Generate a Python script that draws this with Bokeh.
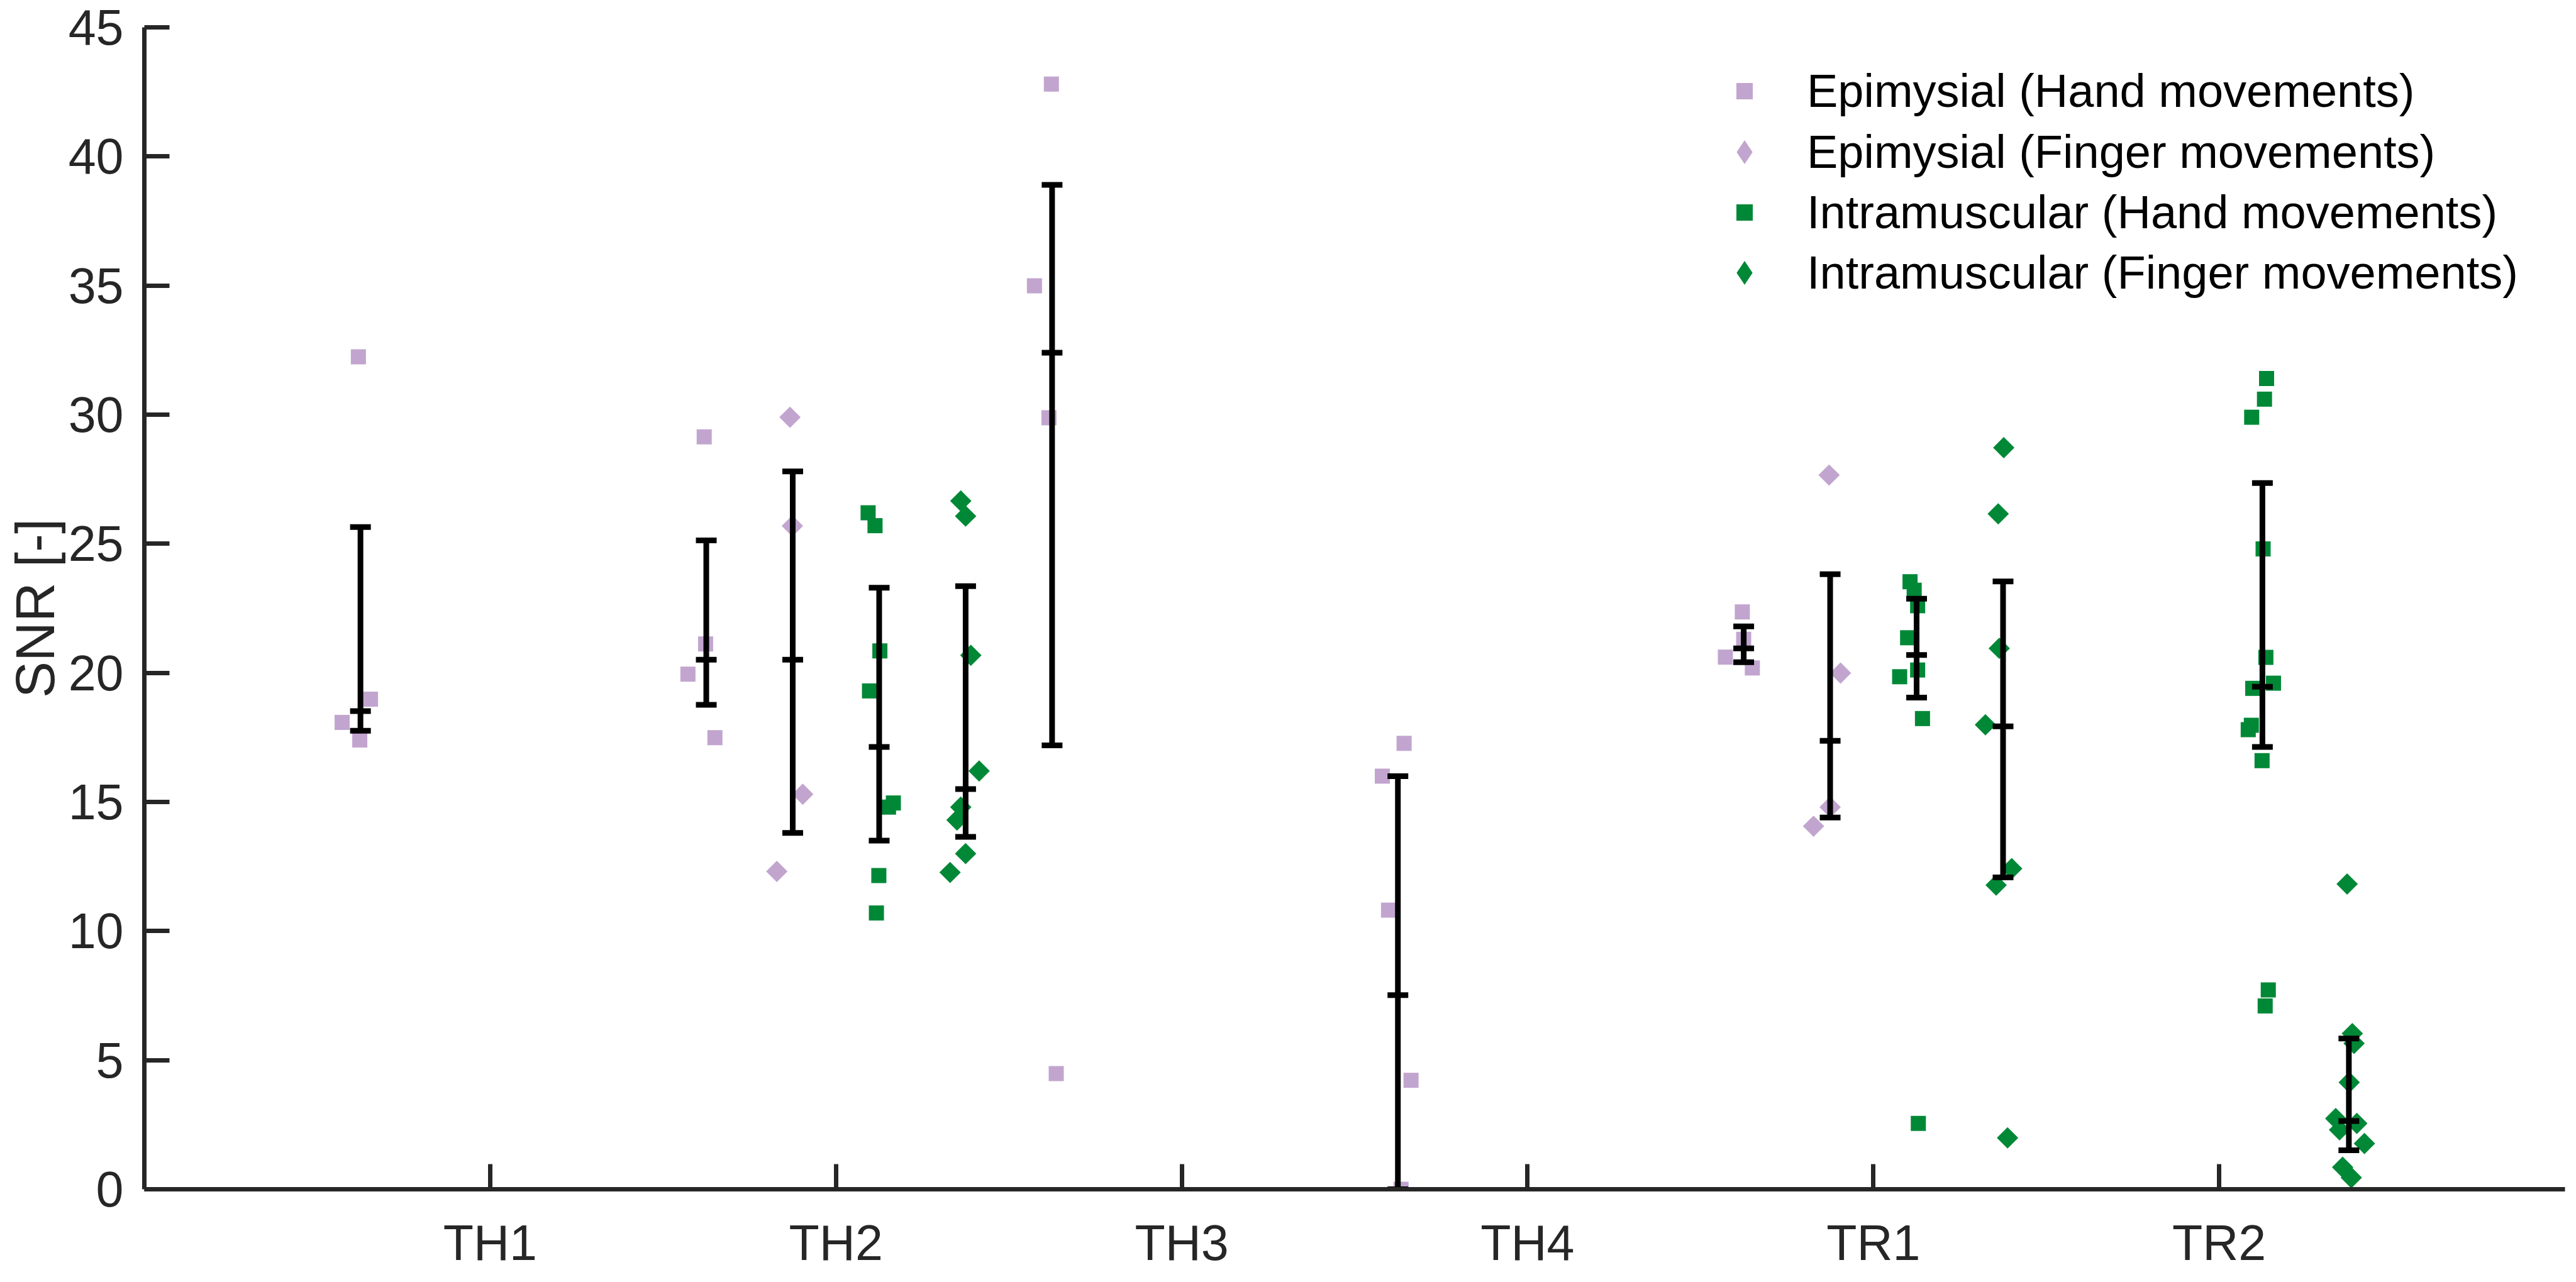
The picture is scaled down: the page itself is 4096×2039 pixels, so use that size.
import math
from bokeh.plotting import figure
from bokeh.models import FixedTicker, Legend, LegendItem, Range1d
from bokeh.embed import file_html
from bokeh.resources import INLINE

# ---------------- data ----------------
categories = ["TH1", "TH2", "TH3", "TH4", "TR1", "TR2"]
y_ticks = [0, 5, 10, 15, 20, 25, 30, 35, 40, 45]

series_labels = [
    "Epimysial (Hand movements)",
    "Epimysial (Finger movements)",
    "Intramuscular (Hand movements)",
    "Intramuscular (Finger movements)",
]
# offset of each series' summary bar from its category position
series_offsets = [-0.375, -0.125, 0.125, 0.375]

# individual points (x = category position + jitter)
epi_hand_x = [0.619, 0.654, 0.572, 0.623,
              1.619, 1.623, 1.572, 1.650,
              2.623, 2.574, 2.616, 2.637,
              3.643, 3.580, 3.598, 3.663, 3.634,
              4.621, 4.625, 4.572, 4.650]
epi_hand_y = [32.24, 18.98, 18.08, 17.40,
              29.14, 21.12, 19.95, 17.49,
              42.80, 34.99, 29.88, 4.48,
              17.27, 16.00, 10.81, 4.22, 0.00,
              22.36, 21.30, 20.61, 20.19]

epi_finger_x = [1.867, 1.874, 1.904, 1.829,
                4.872, 4.905, 4.875, 4.827]
epi_finger_y = [29.90, 25.69, 15.30, 12.31,
                27.66, 19.99, 14.80, 14.06]

intra_hand_x = [2.093, 2.113, 2.127, 2.097, 2.166, 2.152, 2.124, 2.117,
                5.106, 5.118, 5.128, 5.099, 5.128, 5.076, 5.142, 5.130,
                6.137, 6.131, 6.094, 6.127, 6.135, 6.157, 6.097, 6.093, 6.084, 6.124, 6.142, 6.133]
intra_hand_y = [26.20, 25.70, 20.85, 19.30, 14.96, 14.80, 12.15, 10.70,
                23.53, 23.20, 22.60, 21.36, 20.11, 19.85, 18.23, 2.55,
                31.40, 30.60, 29.90, 24.80, 20.60, 19.60, 19.40, 17.97, 17.80, 16.60, 7.72, 7.10]

intra_finger_x = [2.361, 2.375, 2.390, 2.414, 2.361, 2.350, 2.375, 2.330,
                  5.377, 5.361, 5.364, 5.324, 5.400, 5.355, 5.388,
                  6.370, 6.385, 6.390, 6.376, 6.337, 6.398, 6.348, 6.420, 6.357, 6.382]
intra_finger_y = [26.66, 26.07, 20.68, 16.20, 14.80, 14.30, 13.00, 12.27,
                  28.72, 26.16, 20.95, 17.99, 12.42, 11.78, 1.99,
                  11.82, 6.03, 5.65, 4.14, 2.74, 2.55, 2.30, 1.77, 0.85, 0.45]

# summary bars: category (1-based), lower, middle, upper
epi_hand_bar_cat = [1, 2, 3, 4, 5]
epi_hand_low = [17.76, 18.76, 17.19, 0.00, 20.41]
epi_hand_mid = [18.52, 20.51, 32.40, 7.52, 20.95]
epi_hand_high = [25.65, 25.13, 38.90, 16.00, 21.80]

epi_finger_bar_cat = [2, 5]
epi_finger_low = [13.80, 14.40]
epi_finger_mid = [20.51, 17.37]
epi_finger_high = [27.80, 23.82]

intra_hand_bar_cat = [2, 5, 6]
intra_hand_low = [13.50, 19.04, 17.13]
intra_hand_mid = [17.13, 20.69, 19.46]
intra_hand_high = [23.30, 22.87, 27.35]

intra_finger_bar_cat = [2, 5, 6]
intra_finger_low = [13.65, 12.08, 1.51]
intra_finger_mid = [15.50, 17.93, 2.64]
intra_finger_high = [23.36, 23.54, 5.84]

# ---------------- style ----------------
PURPLE = "#c2a5cf"
GREEN = "#008837"
AXIS_COLOR = "#262626"
FONT = "Liberation Sans"

p = figure(width=4080, height=2023, output_backend="svg", toolbar_location=None,
           x_range=Range1d(0, 7), y_range=Range1d(0, 45),
           min_border_left=229, min_border_right=2, min_border_top=43,
           min_border_bottom=130)
p.background_fill_color = "white"
p.border_fill_color = "white"
p.outline_line_color = None
p.xgrid.visible = False
p.ygrid.visible = False

for ax in (p.xaxis[0], p.yaxis[0]):
    ax.axis_line_width = 7
    ax.axis_line_color = AXIS_COLOR
    ax.major_tick_line_width = 7
    ax.major_tick_line_color = AXIS_COLOR
    ax.major_tick_in = 40
    ax.major_tick_out = 0
    ax.minor_tick_line_color = None
    ax.major_label_text_font = FONT
    ax.major_label_text_font_size = "79px"
    ax.major_label_text_color = AXIS_COLOR

p.xaxis.ticker = FixedTicker(ticks=list(range(1, len(categories) + 1)))
p.xaxis.major_label_overrides = {i + 1: c for i, c in enumerate(categories)}
p.xaxis.major_label_standoff = 40
p.yaxis.ticker = FixedTicker(ticks=y_ticks)
p.yaxis.major_label_standoff = 33
p.yaxis.axis_label = "SNR [-]"
p.yaxis.axis_label_text_font = FONT
p.yaxis.axis_label_text_font_size = "87px"
p.yaxis.axis_label_text_font_style = "normal"
p.yaxis.axis_label_text_color = AXIS_COLOR
p.yaxis.axis_label_standoff = 2

SQ = 24
r1 = p.scatter(epi_hand_x, epi_hand_y, marker="square", size=SQ,
               fill_color=PURPLE, line_color=None)
r2 = p.scatter(epi_finger_x, epi_finger_y, marker="square", size=SQ, angle=math.pi / 4,
               fill_color=PURPLE, line_color=None)
r3 = p.scatter(intra_hand_x, intra_hand_y, marker="square", size=SQ,
               fill_color=GREEN, line_color=None)
r4 = p.scatter(intra_finger_x, intra_finger_y, marker="square", size=SQ, angle=math.pi / 4,
               fill_color=GREEN, line_color=None)

CAP = 0.03
bars = [
    (epi_hand_bar_cat, epi_hand_low, epi_hand_mid, epi_hand_high, series_offsets[0]),
    (epi_finger_bar_cat, epi_finger_low, epi_finger_mid, epi_finger_high, series_offsets[1]),
    (intra_hand_bar_cat, intra_hand_low, intra_hand_mid, intra_hand_high, series_offsets[2]),
    (intra_finger_bar_cat, intra_finger_low, intra_finger_mid, intra_finger_high, series_offsets[3]),
]
for cats, lo, mid, hi, off in bars:
    bx = [c + off for c in cats]
    p.segment(x0=bx, y0=lo, x1=bx, y1=hi, line_width=9, line_color="black")
    for vals in (lo, mid, hi):
        p.segment(x0=[x - CAP for x in bx], y0=vals, x1=[x + CAP for x in bx], y1=vals,
                  line_width=9, line_color="black")

# hidden diamond renderers of the same series, used only for their legend glyph
# (the legend does not apply the marker angle of the rotated squares)
d2 = p.scatter(epi_finger_x, epi_finger_y, marker="diamond", fill_color=PURPLE,
               line_color=None, visible=False)
d4 = p.scatter(intra_finger_x, intra_finger_y, marker="diamond", fill_color=GREEN,
               line_color=None, visible=False)

# one legend per row so square and diamond entries can use different glyph boxes
legend_rows = [
    # renderer, glyph_w, glyph_h, standoff, (x, y) in frame px from bottom-left
    (r1, 65, 95, 67, (2512, 1699)),
    (d2, 95, 95, 52, (2497, 1602)),
    (r3, 65, 95, 67, (2512, 1506)),
    (d4, 95, 95, 52, (2497, 1410)),
]
for lab, (rend, gw, gh, so, loc) in zip(series_labels, legend_rows):
    lg = Legend(items=[LegendItem(label=lab, renderers=[rend])], location=loc)
    lg.border_line_color = None
    lg.background_fill_alpha = 0
    lg.inactive_fill_alpha = 0
    lg.padding = 0
    lg.margin = 0
    lg.glyph_width = gw
    lg.glyph_height = gh
    lg.label_standoff = so
    lg.label_text_font = FONT
    lg.label_text_font_size = "74px"
    lg.label_text_color = "black"
    p.add_layout(lg, "center")

open("out.html", "w").write(file_html(p, INLINE))
